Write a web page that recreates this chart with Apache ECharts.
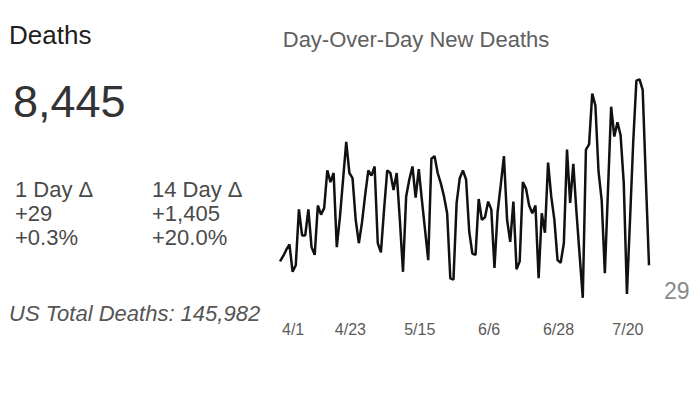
<!DOCTYPE html>
<html>
<head>
<meta charset="utf-8">
<title>Deaths</title>
<script src="https://cdn.jsdelivr.net/npm/echarts@6.0.0/dist/echarts.min.js"></script>
<style>
    html, body {margin: 0; padding: 0; background: #fff;}
    #main {width: 700px; height: 399px;}
</style>
</head>
<body>
<div id="main"></div>
<script>
// daily new deaths, 4/1 .. 7/28
var startDay = new Date(2020, 3, 1);
var newDeaths = [
    32, 36, 41, 45, 24, 29, 72, 52, 52, 72,
    43, 37, 75, 68, 73, 102, 93, 100, 43, 66,
    95, 124, 100, 96, 64, 46, 62, 83, 102, 98,
    105, 46, 39, 72, 102, 100, 87, 100, 64, 24,
    82, 95, 105, 81, 103, 79, 56, 33, 111, 113,
    100, 92, 82, 69, 19, 18, 77, 96, 102, 95,
    55, 38, 37, 80, 64, 66, 78, 72, 27, 70,
    91, 113, 64, 47, 78, 26, 32, 93, 88, 75,
    69, 75, 19, 69, 54, 108, 82, 64, 33, 31,
    46, 118, 77, 107, 70, 37, 4, 118, 122, 161,
    152, 101, 79, 23, 87, 151, 128, 139, 129, 92,
    7, 65, 124, 171, 172, 164, 95, 29
];
var tickLabels = ['4/1', '4/23', '5/15', '6/6', '6/28', '7/20'];

// summary numbers
var stateTotal = '8,445';
var oneDay = ['1 Day Δ', '+29', '+0.3%'];
var fourteenDay = ['14 Day Δ', '+1,405', '+20.0%'];
var usTotal = 'US Total Deaths: 145,982';

var days = [];
for (var i = 0; i < newDeaths.length; i++) {
    var d = new Date(startDay.getTime() + i * 86400000);
    days.push((d.getMonth() + 1) + '/' + d.getDate());
}

var font = '"Liberation Sans", Arial, sans-serif';

var txt = function (x, y, text, size, color, extra) {
    var style = {
        text: text,
        fontSize: size,
        fontFamily: font,
        fill: color,
        verticalAlign: 'middle'
    };
    for (var k in extra) { style[k] = extra[k]; }
    return {type: 'text', x: x, y: y, style: style, silent: true};
};

var myChart = echarts.init(document.getElementById('main'), null, {renderer: 'svg'});

var option = {
    animation: false,
    backgroundColor: '#fff',
    textStyle: {fontFamily: font},
    grid: {left: 280, right: 51, top: 69, bottom: 96},
    xAxis: {
        type: 'category',
        data: days,
        boundaryGap: false,
        axisLine: {show: false},
        axisTick: {show: false},
        splitLine: {show: false},
        axisLabel: {
            interval: function (idx, val) { return tickLabels.indexOf(val) >= 0; },
            color: '#5a5a5a',
            fontSize: 16,
            margin: 18,
            padding: [0, 0, 0, 2],
            alignMinLabel: 'left'
        }
    },
    yAxis: {
        type: 'value',
        min: 0,
        max: 180,
        show: false
    },
    series: [{
        type: 'line',
        data: newDeaths,
        showSymbol: false,
        lineStyle: {color: '#111', width: 2.5},
        endLabel: {
            show: true,
            formatter: function (p) { return p.value; },
            color: '#8a8a8a',
            fontSize: 23,
            offset: [7, 26]
        }
    }],
    graphic: [
        txt(9, 35, 'Deaths', 26, '#1e1e1e'),
        txt(13, 101, stateTotal, 45, '#333'),
        txt(15, 189, oneDay[0], 22, '#4a4a4a'),
        txt(15, 213, oneDay[1], 22, '#4a4a4a'),
        txt(15, 237, oneDay[2], 22, '#4a4a4a'),
        txt(152, 189, fourteenDay[0], 22, '#4a4a4a'),
        txt(152, 213, fourteenDay[1], 22, '#4a4a4a'),
        txt(152, 237, fourteenDay[2], 22, '#4a4a4a'),
        txt(9, 313, usTotal, 22, '#555', {fontStyle: 'italic'}),
        txt(416, 39, 'Day-Over-Day New Deaths', 22, '#606060', {align: 'center'})
    ]
};

myChart.setOption(option);
window.onresize = myChart.resize;
</script>
</body>
</html>
